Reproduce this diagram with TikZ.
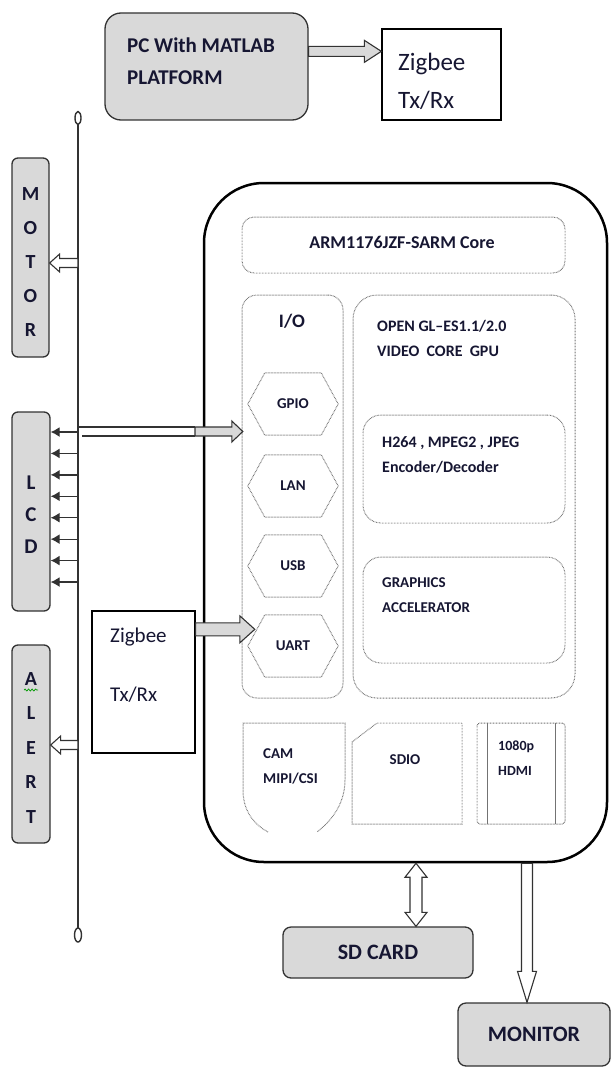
\documentclass[tikz,border=0pt]{standalone}
\usepackage{fontspec}
\setmainfont{Carlito}
\usetikzlibrary{calc,arrows.meta,decorations.pathmorphing}

\definecolor{boxgray}{RGB}{217,217,217}
\definecolor{ink}{RGB}{22,22,50}
\definecolor{edge}{RGB}{50,50,50}
\definecolor{dotgray}{RGB}{115,115,115}

\newcommand\fs[2]{\fontsize{#1}{#2}\selectfont}

% outlined block arrow: options, tail, tip, half shaft, half head, head length
\newcommand\blockarrow[6]{%
  \path (#2) coordinate (ba-s) (#3) coordinate (ba-e);
  \path ($(ba-e)!#6!(ba-s)$) coordinate (ba-h);
  \draw[#1] ($(ba-s)!#4!90:(ba-e)$) -- ($(ba-h)!#4!90:(ba-e)$) -- ($(ba-h)!#5!90:(ba-e)$)
    -- (ba-e) -- ($(ba-h)!#5!-90:(ba-e)$) -- ($(ba-h)!#4!-90:(ba-e)$)
    -- ($(ba-s)!#4!-90:(ba-e)$) -- cycle;}

% outlined block arrow with a head at both ends
\newcommand\twoheadarrow[6]{%
  \path (#2) coordinate (ba-s) (#3) coordinate (ba-e);
  \path ($(ba-e)!#6!(ba-s)$) coordinate (ba-h) ($(ba-s)!#6!(ba-e)$) coordinate (ba-t);
  \draw[#1] (ba-s) -- ($(ba-t)!#5!90:(ba-e)$) -- ($(ba-t)!#4!90:(ba-e)$)
    -- ($(ba-h)!#4!90:(ba-e)$) -- ($(ba-h)!#5!90:(ba-e)$) -- (ba-e)
    -- ($(ba-h)!#5!-90:(ba-e)$) -- ($(ba-h)!#4!-90:(ba-e)$)
    -- ($(ba-t)!#4!-90:(ba-e)$) -- ($(ba-t)!#5!-90:(ba-e)$) -- cycle;}

\tikzset{
  graybox/.style={draw=edge, line width=1.3pt, fill=boxgray, rounded corners=#1},
  whitebox/.style={draw=black, line width=1.3pt, fill=white},
  dotline/.style={draw=dotgray, line width=1pt, dash pattern=on 0.7pt off 0.8pt},
  dotbox/.style={dotline, rounded corners=#1},
  hollow/.style={draw=edge, line width=1.1pt, fill=white},
  grayarrow/.style={draw=edge, line width=1.1pt, fill=boxgray},
  busline/.style={draw=edge, line width=1.4pt},
  txt/.style={text=ink, inner sep=0pt, align=left},
  stack/.style={text=ink, inner sep=0pt, align=center},
  hexnode/.style={minimum width=90pt, minimum height=62pt, inner sep=0pt,
    text=ink, font=\bfseries\fs{15}{18}},
}

\begin{document}
\begin{tikzpicture}[x=1pt,y=-1pt]
\useasboundingbox (0,0) rectangle (611,1070);

% ---------- PC and the Zigbee transmitter ----------
\node[graybox=16pt, minimum width=203pt, minimum height=107pt] (pc) at (206.5,66.5) {};
\node[txt, anchor=west, font=\bfseries\fs{21}{32}] (pctext) at (127,61) {PC With MATLAB\\PLATFORM};
\node[whitebox, minimum width=119pt, minimum height=91pt] (zigtop) at (441.5,74.5) {};
\node[txt, anchor=west, font=\fs{25}{38}] (zigtoptext) at (398,81) {Zigbee\\Tx/Rx};
\coordinate (pcout) at ($(pc.north east)+(0,39)$);
\blockarrow{grayarrow}{pcout}{pcout -| zigtop.west}{5pt}{11pt}{17pt}

% ---------- bus with its end markers ----------
\coordinate (bustop) at (78,118);
\coordinate (busend) at (78,935);
\draw[busline] (bustop) ellipse [x radius=3pt, y radius=6.5pt];
\draw[busline] (busend) ellipse [x radius=3.5pt, y radius=7pt];
\draw[busline] ($(bustop)+(0,6.5)$) -- ($(busend)+(0,-7)$);

% ---------- peripherals on the bus ----------
\node[graybox=6pt, minimum width=37pt, minimum height=199pt] (motor) at (30.5,257.5) {};
\node[stack, font=\bfseries\fs{20}{34}] (motortext) at (30.5,262.5) {M\\O\\T\\O\\R};
\node[graybox=6pt, minimum width=38pt, minimum height=199pt] (lcd) at (31,511.5) {};
\node[stack, font=\bfseries\fs{21}{32}] (lcdtext) at (31,515) {L\\C\\D};
\node[graybox=6pt, minimum width=38pt, minimum height=198pt] (alert) at (31,744) {};
\node[stack, font=\bfseries\fs{20}{34.5}] (alerttext) at (31,748) {A\\L\\E\\R\\T};
\draw[green!60!black, line width=0.7pt, decorate,
      decoration={snake, amplitude=1pt, segment length=3.5pt}] (24,690) -- (38,690);

\coordinate (busM) at (78,263);
\blockarrow{hollow}{busM}{busM -| motor.east}{4.5pt}{9pt}{10pt}
\coordinate (busA) at (78,745);
\blockarrow{hollow}{busA}{busA -| alert.east}{4.5pt}{9pt}{10pt}
\foreach \i in {0,...,7} {
  \coordinate (busL) at (78,{432+21.43*\i});
  \draw[edge, line width=1.3pt, -{Latex[length=9pt,width=10pt]}] (busL) -- (busL -| lcd.east);
}

% ---------- Zigbee receiver ----------
\node[whitebox, minimum width=103pt, minimum height=142pt] (ziglow) at (143.5,682) {};
\node[txt, anchor=west, font=\fs{21}{59}] (ziglowtext) at (110,665.5) {Zigbee\\Tx/Rx};

% ---------- processor board ----------
\node[draw=black, line width=2.5pt, rounded corners=60pt,
      minimum width=403pt, minimum height=679pt] (board) at (405.5,522.5) {};

\node[dotbox=12pt, minimum width=323pt, minimum height=56pt] (arm) at (403.5,245) {};
\node[txt, font=\bfseries\fs{18}{22}] (armtext) at (402,242) {ARM1176JZF-SARM Core};

\node[dotbox=15pt, minimum width=101pt, minimum height=403pt] (io) at (292.5,496.5) {};
\node[txt, font=\bfseries\fs{19}{22}] (iotext) at (292,321) {I/O};

\node[dotbox=24pt, minimum width=222pt, minimum height=403pt] (gpu) at (464,496.5) {};
\node[txt, anchor=west, font=\bfseries\fs{16}{25}] (gputext) at (377,338)
  {OPEN GL–ES1.1/2.0\\VIDEO\ \ CORE\ \ GPU};

\node[dotbox=18pt, minimum width=202pt, minimum height=108pt] (h264) at (464,469) {};
\node[txt, anchor=west, font=\bfseries\fs{16}{25}] (h264text) at (382,455)
  {H264 , MPEG2 , JPEG\\Encoder/Decoder};

\node[dotbox=18pt, minimum width=202pt, minimum height=106pt] (graph) at (464,610) {};
\node[txt, anchor=west, font=\bfseries\fs{15}{25}] (graphtext) at (382,595)
  {GRAPHICS\\ACCELERATOR};

\foreach \h/\y/\t in {gpio/404/GPIO, lan/486/LAN, usb/566/USB, uart/646/UART}
  \node[hexnode] (\h) at (293,\y) {\t};
\foreach \h in {gpio,lan,usb,uart}
  \draw[dotline] ($(\h.north west)+(17,0)$) -- ($(\h.north east)+(-17,0)$) -- (\h.east)
    -- ($(\h.south east)+(-17,0)$) -- ($(\h.south west)+(17,0)$) -- (\h.west) -- cycle;

% camera interface
\draw[dotline] (268,832) .. controls (255,825) and (243,812) .. (243,790) -- (243,723)
  -- (345,723) -- (345,780) .. controls (345,805) and (330,822) .. (317,832);
\node[txt, anchor=west, font=\bfseries\fs{15}{25}] (camtext) at (263,766) {CAM\\MIPI/CSI};
% SD interface
\draw[dotline] (377,723) -- (462,723) -- (462,824) -- (352,824) -- (352,742) -- cycle;
\node[txt, font=\bfseries\fs{15}{18}] (sdiotext) at (405,760) {SDIO};
% HDMI output
\draw[dotline, rounded corners=3pt] (477,723) rectangle (565,824);
\draw[draw=dotgray, line width=0.8pt] (487,723) -- (487,824) (555,723) -- (555,824);
\node[txt, anchor=west, font=\bfseries\fs{14}{25}] (hdmitext) at (498,758) {1080p\\HDMI};

% bus links into the board
\coordinate (busG) at (78,431.5);
\draw[edge, line width=1.1pt] ($(busG)+(0,-4.5)$) -- ($(busG)+(117,-4.5)$)
  ($(busG)+(4,4.5)$) -- ($(busG)+(117,4.5)$);
\blockarrow{grayarrow}{$(busG)+(117,0)$}{$(busG -| gpio.west)+(-5,0)$}{4.5pt}{10.5pt}{11pt}
\coordinate (zigout) at ($(ziglow.north east)+(0,19)$);
\blockarrow{grayarrow}{zigout}{$(zigout -| uart.west)+(7,0)$}{6.5pt}{13.5pt}{15pt}

% ---------- storage and display ----------
\node[graybox=8pt, minimum width=190pt, minimum height=51pt, text=ink,
      font=\bfseries\fs{22}{26}] (sdcard) at (378,952.5) {SD CARD};
\node[graybox=8pt, minimum width=152pt, minimum height=63pt, text=ink,
      font=\bfseries\fs{22}{26}] (monitor) at (534,1034.5) {MONITOR};
\coordinate (sdtop) at ($(sdcard.north)+(38,0)$);
\twoheadarrow{hollow}{sdtop |- board.south}{sdtop}{6pt}{11pt}{14pt}
\coordinate (montop) at ($(monitor.north)+(-7,0)$);
\blockarrow{hollow}{montop |- board.south}{montop}{5.5pt}{9.5pt}{31pt}
\end{tikzpicture}
\end{document}
